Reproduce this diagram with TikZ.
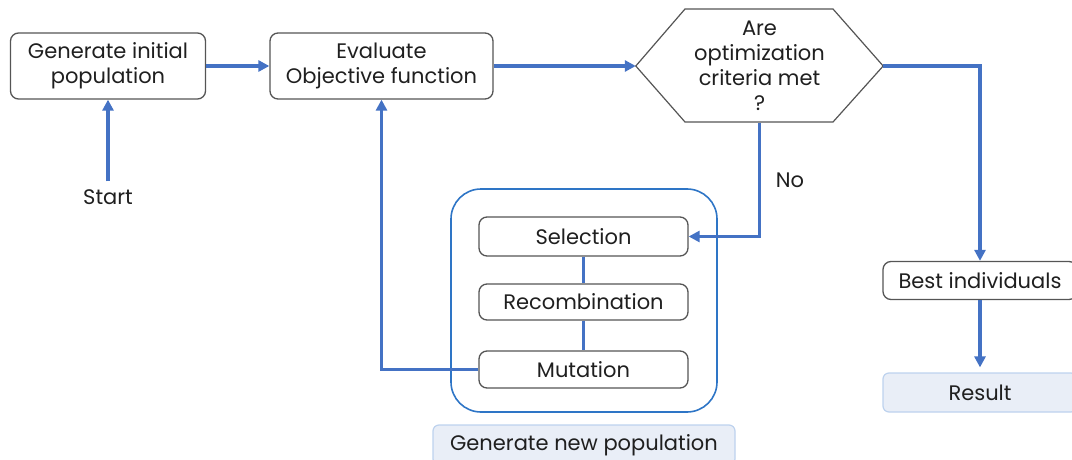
\documentclass[tikz,border=0pt]{standalone}
\usepackage{fontspec}
\setmainfont{Poppins}
\usetikzlibrary{arrows.meta}
\definecolor{flow}{HTML}{4472C4}
\definecolor{frame}{HTML}{2E75C6}
\definecolor{edge}{HTML}{555555}
\definecolor{notefill}{HTML}{E9EEF7}
\definecolor{noteedge}{HTML}{BDD2EE}
\tikzset{
  txt/.style={font=\fontsize{21}{25}\selectfont, text=black!88, align=center},
  procbox/.style={txt, draw=edge, line width=1.3pt, rounded corners=8pt, inner sep=0pt},
  notebox/.style={txt, draw=noteedge, fill=notefill, line width=1.2pt, rounded corners=6pt, inner sep=0pt},
  link/.style={draw=flow, line width=3.2pt},
  arrow/.style={link, -{Triangle[length=11pt,width=11pt]}},
}
\begin{document}
\begin{tikzpicture}[x=1pt,y=-1pt]
\useasboundingbox (0,0) rectangle (1072,460);
\clip (0,0) rectangle (1072,460);

% main process boxes
\node[procbox, minimum width=195pt, minimum height=66pt] (init) at (108,66) {Generate initial\\population};
\node[procbox, minimum width=223pt, minimum height=66pt] (eval) at (381.5,66) {Evaluate\\Objective function};

% decision hexagon
\node[txt, minimum width=247pt, minimum height=113pt, inner sep=0pt] (crit) at (759.5,66) {Are\\optimization\\criteria met\\?};
\draw[edge, line width=1.2pt] (crit.west) -- (685,9) -- (833,9) -- (crit.east) -- (833,122) -- (685,122) -- cycle;

% new population group
\node[draw=frame, line width=1.6pt, rounded corners=30pt, minimum width=266pt, minimum height=223pt] (group) at (584,300.5) {};
\node[procbox, minimum width=209pt, minimum height=39pt] (sel) at (583.5,236.5) {Selection};
\node[procbox, minimum width=209pt, minimum height=36pt] (rec) at (583.5,302) {Recombination};
\node[procbox, minimum width=209pt, minimum height=37pt] (mut) at (583.5,369.5) {Mutation};
\node[notebox, minimum width=302pt, minimum height=40pt] (newpop) at (584,445) {Generate new population};

% outcome
\node[procbox, minimum width=194pt, minimum height=38pt] (best) at (980,280.5) {Best individuals};
\node[notebox, minimum width=194pt, minimum height=39pt] (result) at (980,392.5) {Result};

% labels
\node[txt, inner sep=0pt] (start) at (108,197) {Start};
\node[txt, inner sep=0pt] (no) at (790,180) {No};

% connectors
\draw[arrow, shorten <=8pt] (start.north) -- (init.south);
\draw[arrow] (init.east) -- (eval.west);
\draw[arrow] (eval.east) -- (crit.west);
\draw[arrow] (crit.east) -| (best.north);
\draw[arrow] (crit.south) |- (sel.east);
\draw[link] (sel.south) -- (rec.north);
\draw[link] (rec.south) -- (mut.north);
\draw[arrow] (mut.west) -| (eval.south);
\draw[arrow, shorten >=5pt] (best.south) -- (result.north);
\end{tikzpicture}
\end{document}
